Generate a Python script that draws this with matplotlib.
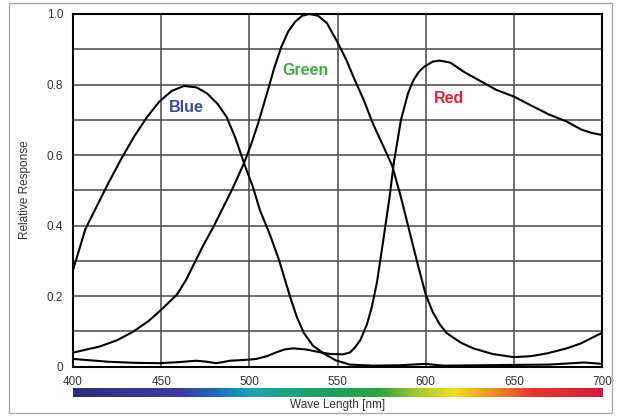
import numpy as np
import matplotlib
matplotlib.use("Agg")
import matplotlib.pyplot as plt
from matplotlib.colors import LinearSegmentedColormap
from matplotlib.patches import Rectangle

plt.rcParams['font.family'] = ['Liberation Sans', 'DejaVu Sans']

# curvas de respuesta (longitud de onda nm, respuesta)
blue_wl = [400, 404, 407, 413, 420, 428, 435, 442, 449, 456, 463, 470, 476, 482, 487, 492,
           497, 502, 506, 512, 517, 523, 527, 531, 536, 542, 549, 557, 570, 585, 600,
           610, 630, 650, 670, 690, 700]
blue_val = [0.274, 0.34, 0.39, 0.45, 0.52, 0.595, 0.655, 0.708, 0.752, 0.782, 0.796, 0.792,
            0.775, 0.745, 0.709, 0.65, 0.577, 0.51, 0.444, 0.37, 0.30, 0.20, 0.14, 0.095,
            0.06, 0.038, 0.018, 0.006, 0.003, 0.004, 0.008, 0.003, 0.004, 0.005, 0.006,
            0.012, 0.008]

green_wl = [400, 415, 425, 434, 443, 451, 459, 464, 469, 474, 480, 485, 490, 497, 501,
            505, 510, 514, 518, 522, 526, 530, 534, 539, 544, 550, 555, 559, 565, 570,
            576, 581, 586, 590, 595, 600, 604, 608, 612, 620, 627, 638, 650, 660, 669, 680,
            688, 700]
green_val = [0.040, 0.057, 0.075, 0.099, 0.13, 0.166, 0.205, 0.245, 0.295, 0.345, 0.40,
             0.45, 0.50, 0.577, 0.63, 0.69, 0.775, 0.845, 0.905, 0.95, 0.978, 0.995, 1.0,
             0.995, 0.974, 0.92, 0.87, 0.822, 0.755, 0.69, 0.625, 0.57, 0.48, 0.40, 0.30,
             0.205, 0.155, 0.12, 0.095, 0.068, 0.052, 0.036, 0.027, 0.03, 0.038, 0.052,
             0.066, 0.096]

red_wl = [400, 410, 420, 435, 449, 460, 470, 476, 481, 485, 489, 497, 504, 510, 516, 520,
          525, 532, 540, 546, 553, 557, 560, 563, 566.7, 569.5, 572.4, 576, 579.5, 582, 586,
          590, 593, 596, 599, 604, 608, 614, 622, 631, 640, 650, 660, 670, 680, 688, 694, 700]
red_val = [0.022, 0.018, 0.014, 0.011, 0.010, 0.013, 0.017, 0.014, 0.010, 0.013, 0.017,
           0.019, 0.022, 0.03, 0.042, 0.049, 0.052, 0.049, 0.041, 0.036, 0.035, 0.04, 0.055,
           0.076, 0.12, 0.17, 0.24, 0.36, 0.48, 0.58, 0.70, 0.775, 0.812, 0.835, 0.85, 0.865,
           0.868, 0.862, 0.835, 0.81, 0.785, 0.766, 0.74, 0.715, 0.695, 0.673, 0.663, 0.657]

# etiquetas de las curvas
labels = ['Blue', 'Green', 'Red']
label_wl = [464, 532, 613]
label_val = [0.735, 0.84, 0.76]
label_colors = ['#3a4a9e', '#3cb043', '#e8202a']

# barra del espectro
spec_pos = [0.0, 0.1, 0.2, 0.27, 0.33, 0.4, 0.5, 0.58, 0.65, 0.72, 0.8, 0.87, 1.0]
spec_colors = ['#2b2a7a', '#3a3593', '#3d3a9c', '#1a6cc0', '#1aa3b8', '#18a585', '#1da05a',
               '#2ea43e', '#a6c92e', '#f0e01e', '#ef8a22', '#e7352a', '#d8193c']

x_ticks = [400, 450, 500, 550, 600, 650, 700]
y_ticks = [0, 0.2, 0.4, 0.6, 0.8, 1.0]
y_tick_labels = ['0', '0.2', '0.4', '0.6', '0.8', '1.0']

fig = plt.figure(figsize=(6.17, 4.16), dpi=100)
ax = fig.add_axes([73 / 617, 1 - 366.7 / 416, 529 / 617, 352.7 / 416])

for wl, val in [(blue_wl, blue_val), (green_wl, green_val), (red_wl, red_val)]:
    ax.plot(wl, val, color='black', lw=1.5, zorder=3, solid_joinstyle='round')

for txt, x, y, c in zip(labels, label_wl, label_val, label_colors):
    ax.text(x, y, txt, color=c, fontsize=11.5, fontweight='bold', ha='center', va='center')

ax.set_xlim(400, 700)
ax.set_ylim(0, 1.0)
ax.set_xticks(x_ticks)
ax.set_yticks(y_ticks)
ax.set_yticklabels(y_tick_labels)
ax.set_xticks(np.arange(400, 701, 50), minor=True)
ax.set_yticks(np.arange(0, 1.01, 0.1), minor=True)
ax.grid(True, which='both', color='#555555', lw=1.2)
ax.tick_params(which='both', length=0, labelsize=8.5, labelcolor='#333333', pad=7)
for s in ax.spines.values():
    s.set_linewidth(1.5)
    s.set_color('black')
    s.set_zorder(4)

# barra de colores del espectro
cax = fig.add_axes([73 / 617, 1 - 397 / 416, 530 / 617, 9 / 416])
cmap = LinearSegmentedColormap.from_list('espectro', list(zip(spec_pos, spec_colors)))
cax.imshow(np.linspace(0, 1, 512)[None, :], aspect='auto', cmap=cmap, extent=[400, 700, 0, 1])
cax.set_axis_off()

fig.text(338 / 617, 1 - 405 / 416, 'Wave Length [nm]', ha='center', va='center',
         fontsize=8.5, color='#333333')
fig.text(25 / 617, 1 - 190 / 416, 'Relative Response', ha='center', va='center',
         rotation=90, fontsize=8.5, color='#333333')

fig.patches.append(Rectangle((9 / 617, 3 / 416), 603 / 617, 410 / 416, transform=fig.transFigure,
                             fill=False, edgecolor='#aaaaaa', lw=1))

fig.savefig('out.png', dpi=100)
